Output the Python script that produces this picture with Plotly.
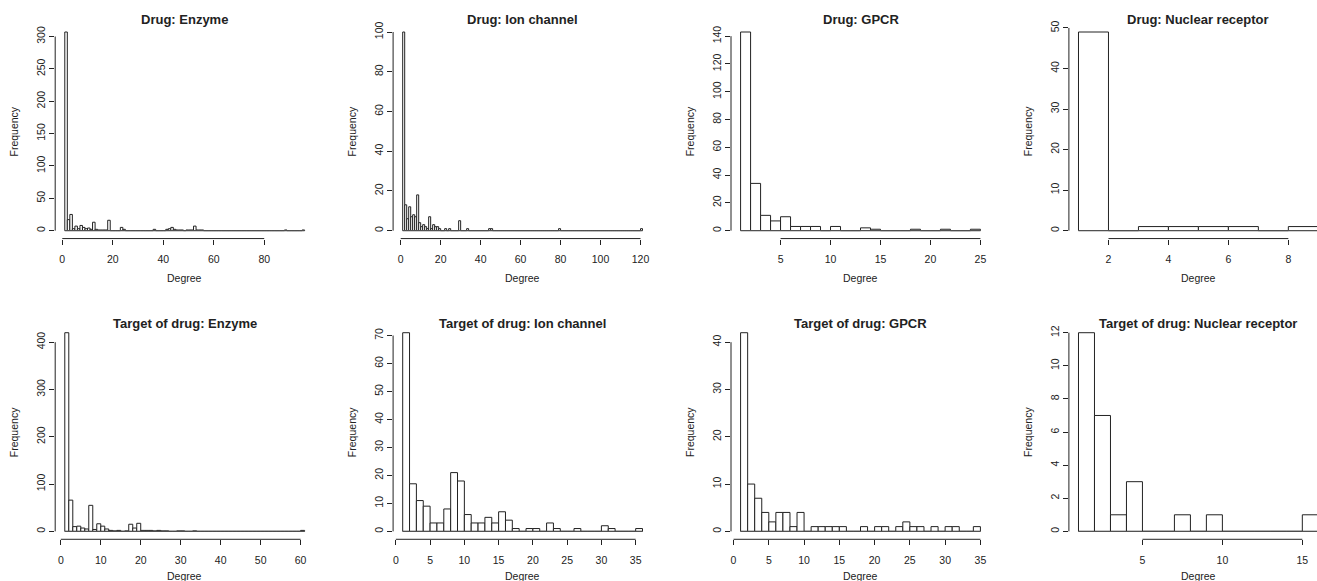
import plotly.graph_objects as go
import numpy as np

# ---------------- data (bin width 1, first bin starts at BIN_START) ----------------
titles = [
    "Drug: Enzyme", "Drug: Ion channel", "Drug: GPCR", "Drug: Nuclear receptor",
    "Target of drug: Enzyme", "Target of drug: Ion channel", "Target of drug: GPCR",
    "Target of drug: Nuclear receptor",
]
BIN_START = 1

drug_enzyme = [307, 17, 25, 3, 7, 3, 8, 5, 3, 4,
               2, 13, 2, 1, 1, 1, 1, 16, 0, 0,
               0, 0, 5, 2, 0, 0, 0, 0, 0, 0,
               0, 0, 0, 0, 0, 2, 0, 0, 0, 0,
               2, 3, 5, 2, 1, 1, 1, 0, 1, 1,
               1, 7, 1, 1, 1, 0, 0, 0, 0, 0,
               0, 0, 0, 0, 0, 0, 0, 0, 0, 0,
               0, 0, 0, 0, 0, 0, 0, 0, 0, 0,
               0, 0, 0, 0, 0, 0, 0, 1, 0, 0,
               0, 0, 0, 0, 1]
drug_ion = [100, 13, 6, 12, 7, 8, 7, 18, 4, 2,
            3, 2, 1, 7, 1, 3, 2, 2, 1, 0,
            0, 1, 0, 1, 0, 0, 0, 0, 5, 0,
            0, 0, 1, 0, 0, 0, 0, 0, 0, 0,
            0, 0, 0, 1, 1, 0, 0, 0, 0, 0,
            0, 0, 0, 0, 0, 0, 0, 0, 0, 0,
            0, 0, 0, 0, 0, 0, 0, 0, 0, 0,
            0, 0, 0, 0, 0, 0, 0, 0, 1, 0,
            0, 0, 0, 0, 0, 0, 0, 0, 0, 0,
            0, 0, 0, 0, 0, 0, 0, 0, 0, 0,
            0, 0, 0, 0, 0, 0, 0, 0, 0, 0,
            0, 0, 0, 0, 0, 0, 0, 0, 0, 1]
drug_gpcr = [143, 34, 11, 7, 10, 3, 3, 3, 0, 3, 0, 0, 2, 1, 0, 0, 0, 1, 0, 0, 1, 0, 0, 1]
drug_nr = [49, 0, 1, 1, 1, 1, 0, 1]
target_enzyme = [420, 66, 10, 11, 7, 5, 55, 4, 16, 11,
                 5, 2, 1, 2, 0, 1, 15, 7, 17, 2,
                 2, 2, 1, 2, 1, 1, 0, 0, 1, 1,
                 0, 0, 1, 0, 0, 0, 0, 0, 0, 0,
                 0, 0, 0, 0, 0, 0, 0, 0, 0, 0,
                 0, 0, 0, 0, 0, 0, 0, 0, 0, 2]
target_ion = [71, 17, 11, 9, 3, 3, 8, 21, 18, 6,
              3, 3, 5, 3, 7, 4, 1, 0, 1, 1,
              0, 3, 1, 0, 0, 1, 0, 0, 0, 2,
              1, 0, 0, 0, 1]
target_gpcr = [42, 10, 7, 4, 2, 4, 4, 1, 4, 0,
               1, 1, 1, 1, 1, 0, 0, 1, 0, 1,
               1, 0, 1, 2, 1, 1, 0, 1, 0, 1,
               1, 0, 0, 1]
target_nr = [12, 7, 1, 3, 0, 0, 1, 0, 1, 0, 0, 0, 0, 0, 1]

x_ticks = [
    [0, 20, 40, 60, 80],
    [0, 20, 40, 60, 80, 100, 120],
    [5, 10, 15, 20, 25],
    [2, 4, 6, 8],
    [0, 10, 20, 30, 40, 50, 60],
    [0, 5, 10, 15, 20, 25, 30, 35],
    [0, 5, 10, 15, 20, 25, 30, 35],
    [5, 10, 15],
]
y_ticks = [
    [0, 50, 100, 150, 200, 250, 300],
    [0, 20, 40, 60, 80, 100],
    [0, 20, 40, 60, 80, 100, 120, 140],
    [0, 10, 20, 30, 40, 50],
    [0, 100, 200, 300, 400],
    [0, 10, 20, 30, 40, 50, 60, 70],
    [0, 10, 20, 30, 40],
    [0, 2, 4, 6, 8, 10, 12],
]
all_counts = [drug_enzyme, drug_ion, drug_gpcr, drug_nr,
              target_enzyme, target_ion, target_gpcr, target_nr]

# ---------------- layout geometry (pixels) ----------------
FIG_W, FIG_H = 1317, 581
PLOT_W, PLOT_H = 259.0, 216.0
LEFTS = [55.2, 393.1, 731.0, 1068.9]
TOPS = [20.2, 323.0]
TITLE_Y = [15.7, 321.7]
XLAB_Y = [276.0, 576.0]
INK = "#222222"
FONT = "Liberation Sans, Arial, Helvetica, sans-serif"

fig = go.Figure()
shapes, annotations = [], []
layout_axes = {}

for k, counts in enumerate(all_counts):
    r, c = divmod(k, 4)
    n = k + 1
    xa = "x" if n == 1 else f"x{n}"
    ya = "y" if n == 1 else f"y{n}"
    xkey = "xaxis" if n == 1 else f"xaxis{n}"
    ykey = "yaxis" if n == 1 else f"yaxis{n}"

    nb = len(counts)
    lo, hi = BIN_START, BIN_START + nb
    pad = 0.04 * (hi - lo)
    xr = [lo - pad, hi + pad]
    ymax = max(counts)
    yr = [-0.04 * ymax, ymax * 1.04]

    left = LEFTS[c]
    right = left + PLOT_W
    if right > FIG_W:
        frac = (FIG_W - left) / PLOT_W
        xr = [xr[0], xr[0] + (xr[1] - xr[0]) * frac]
        right = FIG_W
    top = TOPS[r]
    bottom = top + PLOT_H

    centers = BIN_START + np.arange(nb) + 0.5

    # baseline of zero-height bins
    fig.add_trace(go.Scatter(x=[lo, hi], y=[0, 0], mode="lines",
                             line=dict(color="#555555", width=1),
                             xaxis=xa, yaxis=ya, showlegend=False, hoverinfo="skip"))
    fig.add_trace(go.Bar(x=centers, y=counts, width=1.0,
                         marker=dict(color="white", line=dict(color=INK, width=1)),
                         xaxis=xa, yaxis=ya, showlegend=False))

    layout_axes[xkey] = dict(
        domain=[left / FIG_W, right / FIG_W], range=xr, anchor=ya,
        tickmode="array", tickvals=x_ticks[k], ticks="outside", ticklen=5,
        tickwidth=1, tickcolor=INK, showgrid=False, zeroline=False, showline=False,
        tickfont=dict(family=FONT, size=10.5, color=INK), ticklabelstandoff=6,
        fixedrange=True,
    )
    layout_axes[ykey] = dict(
        domain=[1 - bottom / FIG_H, 1 - top / FIG_H], range=yr, anchor=xa,
        tickmode="array", tickvals=y_ticks[k], ticks="outside", ticklen=5,
        tickwidth=1, tickcolor=INK, showgrid=False, zeroline=False, showline=False,
        tickangle=-90, tickfont=dict(family=FONT, size=10.5, color=INK),
        fixedrange=True,
    )

    # R-style axis lines spanning first..last tick
    shapes.append(dict(type="line", xref=xa, yref=f"{ya} domain",
                       x0=x_ticks[k][0], x1=x_ticks[k][-1], y0=0, y1=0,
                       line=dict(color=INK, width=1)))
    shapes.append(dict(type="line", xref=f"{xa} domain", yref=ya,
                       x0=0, x1=0, y0=y_ticks[k][0], y1=y_ticks[k][-1],
                       line=dict(color=INK, width=1)))

    cx = (left + PLOT_W / 2) / FIG_W
    annotations.append(dict(text=f"<b>{titles[k]}</b>", xref="paper", yref="paper",
                            x=cx, y=1 - TITLE_Y[r] / FIG_H, xanchor="center", yanchor="middle",
                            showarrow=False, font=dict(family=FONT, size=13, color=INK)))
    annotations.append(dict(text="Degree", xref="paper", yref="paper",
                            x=cx, y=1 - XLAB_Y[r] / FIG_H, xanchor="center", yanchor="middle",
                            showarrow=False, font=dict(family=FONT, size=10.5, color=INK)))
    annotations.append(dict(text="Frequency", xref="paper", yref="paper",
                            x=(left - 41) / FIG_W, y=1 - (top + PLOT_H / 2) / FIG_H,
                            xanchor="center", yanchor="middle", textangle=-90,
                            showarrow=False, font=dict(family=FONT, size=10.5, color=INK)))

fig.update_layout(
    width=FIG_W, height=FIG_H, autosize=False,
    margin=dict(l=0, r=0, t=0, b=0, pad=0),
    paper_bgcolor="white", plot_bgcolor="white",
    shapes=shapes, annotations=annotations, bargap=0,
    font=dict(family=FONT, color=INK),
    hovermode=False,
    **layout_axes,
)

fig.write_html("out.html",
               config={"displayModeBar": False, "staticPlot": True},
               post_script="document.body.style.margin='0px';document.body.style.overflow='hidden';")
